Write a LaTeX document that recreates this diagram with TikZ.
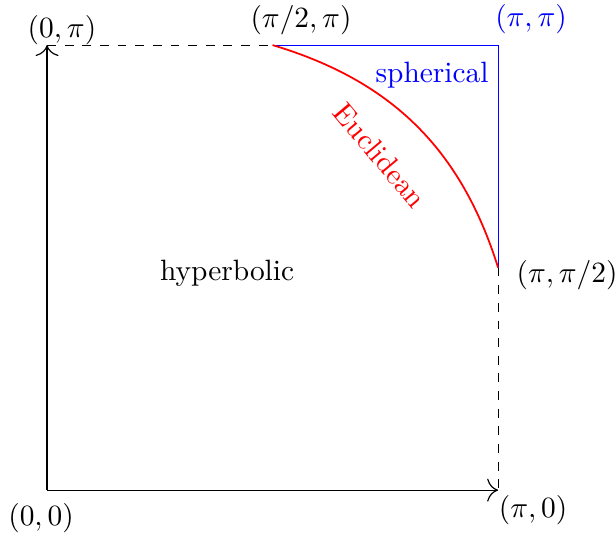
\documentclass[tikz,border=0pt]{standalone}
\usepackage{amsmath,amssymb}
\usepackage{tikz}
\usetikzlibrary{arrows.meta,calc}

\begin{document}
\begin{tikzpicture}[x=48.83pt,y=48.18pt,>={To[scale=1.5]}]
  \useasboundingbox (-16pt,-15.3pt) rectangle (193.5pt,166.7pt);
  \coordinate (O) at (0,0);
  \coordinate (A) at (pi,0);
  \coordinate (B) at (0,pi);
  \coordinate (C) at (pi/2,pi);
  \coordinate (D) at (pi,pi);
  \coordinate (E) at (pi,pi/2);
  % axes
  \draw[->] (O) -- (A);
  \draw[->] (O) -- (B);
  \draw[dashed] (B) -- (C);
  \draw[dashed] (E) -- (A);
  % spherical corner
  \draw[blue] (C) -- (D) -- (E);
  % Euclidean boundary
  \draw[red,semithick] (C) to[bend left=28] (E);
  \node[red,rotate=-50] (euc) at (2.32,2.365) {Euclidean};
  \node[blue] (sph) at (2.682,2.93) {spherical};
  \node (hyp) at (1.254,1.532) {hyperbolic};
  % corner labels
  \node (lO) at (-0.042,-0.198) {$(0,0)$};
  \node (lA) at (3.385,-0.141) {$(\pi,0)$};
  \node (lB) at (0.104,3.248) {$(0,\pi)$};
  \node (lC) at (1.769,3.318) {$(\pi/2,\pi)$};
  \node[blue] (lD) at (3.371,3.325) {$(\pi,\pi)$};
  \node (lE) at (3.622,1.518) {$(\pi,\pi/2)$};
\end{tikzpicture}
\end{document}
